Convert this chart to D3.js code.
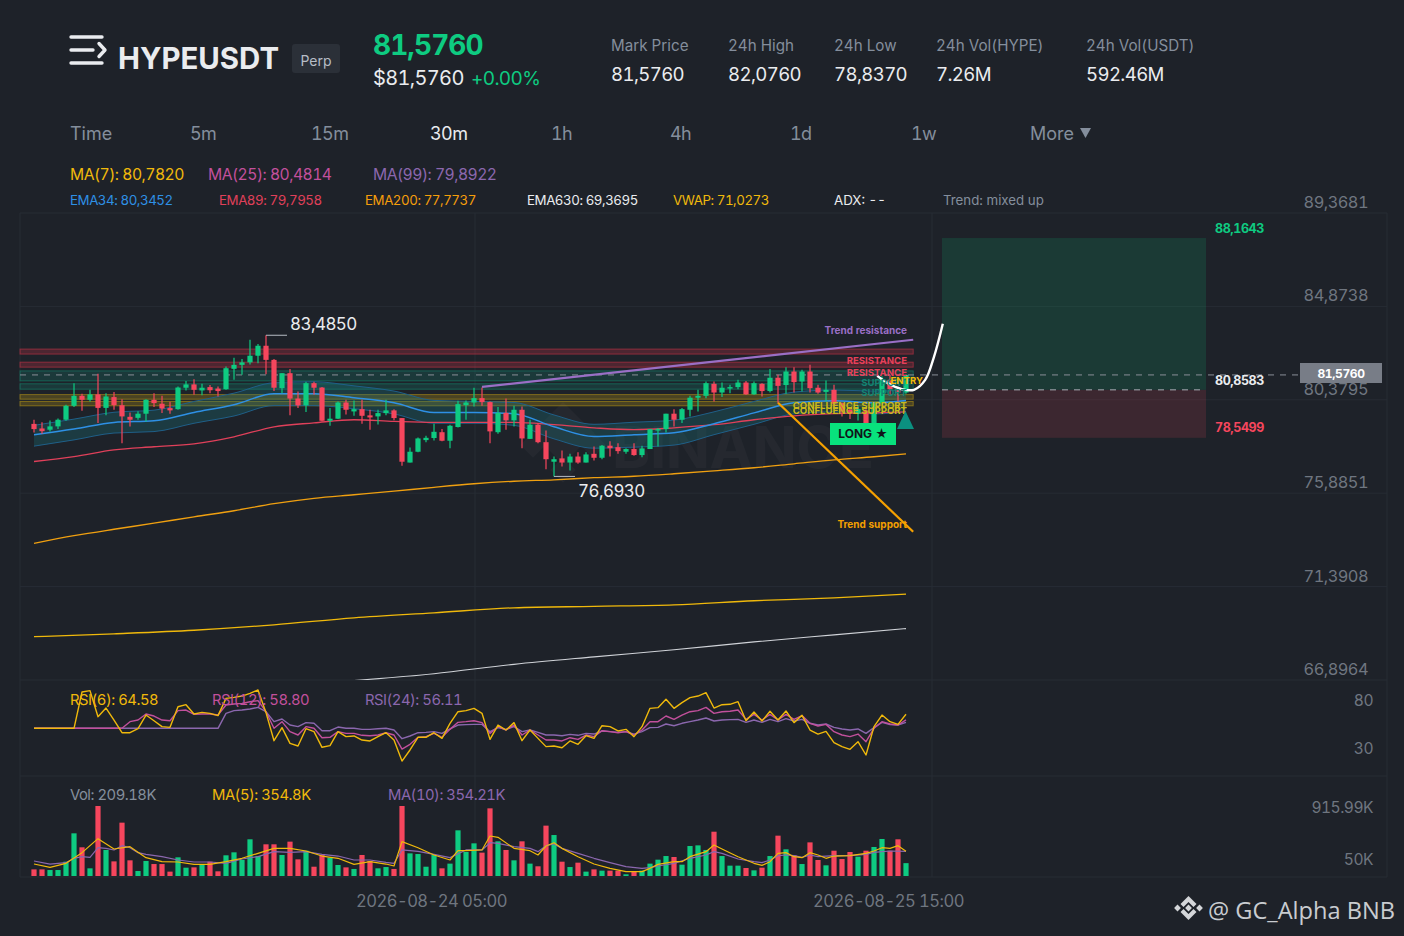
<!DOCTYPE html>
<html><head><meta charset="utf-8">
<script src="https://cdnjs.cloudflare.com/ajax/libs/d3/7.8.5/d3.min.js"></script>
<style>html,body{margin:0;padding:0;background:#1e2229;overflow:hidden}svg{display:block}text{font-family:Inter,"Noto Sans",sans-serif;font-variant-numeric:tabular-nums}</style>
</head><body><div id="c"></div>
<script>
// ---------- DATA ----------
const ohlc = [[79.22,79.42,78.81,78.97],[79.00,79.30,78.74,78.87],[78.94,79.38,78.86,79.10],[79.10,79.48,78.98,79.42],[79.42,80.14,79.37,80.09],[80.09,81.18,80.03,80.57],[80.57,80.67,79.85,80.38],[80.38,80.86,80.30,80.64],[80.64,81.63,79.26,79.99],[79.99,80.70,79.63,80.54],[80.51,80.76,79.90,80.12],[80.12,80.41,78.29,79.58],[79.56,79.77,79.10,79.42],[79.51,79.83,79.42,79.71],[79.71,80.41,79.34,80.38],[80.38,80.70,80.03,80.22],[80.19,80.57,79.74,79.96],[79.98,80.28,79.71,79.87],[79.93,81.02,79.90,80.97],[80.96,81.28,80.83,81.12],[81.12,81.37,80.62,80.86],[80.83,81.15,80.60,80.96],[80.99,81.09,80.70,80.84],[80.92,81.02,80.54,80.80],[80.89,81.98,80.86,81.90],[81.87,82.40,81.34,82.06],[82.06,82.34,81.58,82.18],[82.18,83.27,82.08,82.50],[82.50,83.07,82.14,82.98],[82.98,83.485,81.61,82.30],[82.30,82.34,80.80,80.96],[80.94,81.66,80.70,81.66],[81.66,81.86,79.64,80.44],[80.44,80.78,79.99,80.11],[80.11,81.25,79.79,81.18],[81.18,81.25,80.62,80.96],[80.97,80.99,79.35,79.37],[79.37,79.98,79.13,79.47],[79.47,80.30,79.45,80.25],[80.25,80.38,79.67,79.90],[79.82,80.35,79.61,79.93],[79.93,80.38,79.23,79.61],[79.63,79.90,78.94,79.53],[79.58,79.90,79.19,79.74],[79.74,80.38,79.64,79.87],[79.87,79.93,79.39,79.50],[79.50,79.50,77.20,77.40],[77.36,78.09,77.36,77.88],[77.88,78.57,77.85,78.52],[78.44,78.65,78.34,78.55],[78.54,79.23,78.42,78.84],[78.82,78.97,78.38,78.41],[78.41,79.18,78.05,79.13],[79.07,80.33,79.05,80.17],[80.12,80.35,79.42,80.25],[80.25,80.96,80.06,80.46],[80.46,80.97,80.09,80.27],[80.27,80.30,78.29,78.86],[78.82,80.03,78.74,79.75],[79.75,80.44,78.94,79.39],[79.39,80.09,79.10,79.90],[79.90,80.06,78.05,78.52],[78.50,79.42,78.49,79.18],[79.18,79.26,78.29,78.34],[78.34,78.90,77.04,77.52],[77.40,77.65,76.693,77.52],[77.56,77.94,77.17,77.36],[77.36,77.78,76.98,77.65],[77.65,77.86,77.30,77.36],[77.36,77.85,77.36,77.75],[77.78,78.13,77.46,77.59],[77.59,78.21,77.52,78.17],[78.17,78.39,77.65,78.05],[78.10,78.29,77.78,77.91],[77.88,78.05,77.78,78.01],[78.01,78.29,77.69,77.72],[77.72,78.17,77.62,78.04],[78.01,78.97,78.01,78.97],[78.90,79.02,78.13,78.97],[78.97,79.71,78.81,79.71],[79.71,79.93,79.10,79.42],[79.42,79.98,79.26,79.93],[79.90,80.57,79.58,80.48],[80.48,80.86,79.82,80.57],[80.57,81.26,80.46,81.18],[81.15,81.26,80.30,80.73],[80.73,81.21,80.51,80.96],[80.92,81.10,80.70,80.99],[80.99,81.34,80.89,81.21],[81.21,81.29,80.62,80.64],[80.64,81.26,80.62,81.18],[81.15,81.18,80.54,80.80],[80.80,81.86,80.73,81.44],[81.44,81.58,80.22,81.05],[81.09,81.94,80.67,81.74],[81.74,81.95,80.73,81.23],[81.26,81.82,80.78,81.74],[81.74,82.06,80.73,80.94],[80.96,81.10,80.67,80.73],[80.76,81.31,80.30,80.86],[80.86,81.10,80.03,80.19],[80.22,80.25,79.58,79.82],[79.90,79.98,79.45,79.74],[79.71,80.12,79.38,79.93],[79.87,79.93,79.26,79.26],[79.26,80.22,79.26,80.22],[80.22,81.50,80.14,81.37],[81.34,81.58,80.62,80.89],[80.89,81.02,80.30,80.73],[80.73,81.58,80.67,81.576]];
const volume = [132,132,124,124,227,578,405,145,916,372,231,710,244,112,236,198,198,104,281,153,157,186,227,108,306,343,248,504,297,442,442,310,475,256,363,165,310,277,186,157,137,310,236,145,161,137,916,330,322,165,310,145,203,615,347,454,339,887,479,372,244,479,203,170,673,557,227,161,215,104,132,116,116,116,71,108,116,203,252,297,285,190,421,429,372,598,297,178,178,149,120,153,297,549,380,306,198,466,248,182,363,260,347,289,363,409,508,363,504,209];
const emaIdx = [0,5,10,15,20,25,30,35,40,45,50,55,60,65,70,75,80,85,90,95,100,105,109];
const ema34 = [78.70,78.97,79.29,79.37,79.77,80.14,80.67,80.67,80.48,80.24,79.77,79.77,79.71,79.08,78.61,78.70,78.79,79.23,79.75,80.24,80.33,80.24,80.345];
const bandUpper = [79.15,79.45,79.78,79.88,80.30,80.70,81.20,81.25,81.05,80.80,80.35,80.30,80.25,79.65,79.20,79.30,79.40,79.80,80.30,80.75,80.85,80.80,80.85];
const bandLower = [78.15,78.45,78.78,78.85,79.25,79.60,80.10,80.10,79.95,79.70,79.25,79.25,79.15,78.50,78.05,78.10,78.20,78.70,79.20,79.70,79.80,79.70,79.80];
const ema89 = [77.41,77.65,77.97,78.12,78.26,78.60,79.08,79.27,79.42,79.34,79.29,79.29,79.29,79.18,79.03,78.94,79.03,79.18,79.42,79.61,79.71,79.75,79.796];
const ema200 = [73.47,73.84,74.15,74.44,74.75,75.04,75.38,75.64,75.81,75.98,76.17,76.34,76.46,76.53,76.63,76.70,76.82,76.96,77.11,77.30,77.49,77.64,77.774];
const vwapIdx = [0,10,20,30,40,50,60,70,80,90,100,109];
const vwap = [68.98,69.12,69.29,69.55,69.89,70.13,70.37,70.44,70.51,70.71,70.85,71.027];
const ema630Idx = [40,50,60,70,80,90,100,109];
const ema630 = [66.87,67.20,67.65,68.01,68.35,68.73,69.07,69.37];
const rsi6 = [50,50,50,50,50,50,87.8,89.2,62.1,71.1,58.6,45.4,45.4,49.6,63.8,57.9,51.7,51.0,72.5,74.6,64.9,66.6,65.6,63.2,81.2,82.2,83.6,86.4,89.9,66.3,37.1,50.7,34.3,31.6,49.6,46.5,30.2,31.9,46.5,41.3,42.0,37.8,36.8,41.3,45.4,37.8,15.9,27.4,40.6,40.6,45.4,39.5,55.2,67.3,68.4,70.8,65.6,38.5,53.4,48.2,55.9,37.1,48.2,39.5,30.9,31.6,29.8,36.8,33.3,42.3,39.5,52.7,51.7,47.2,48.9,41.3,51.7,70.8,71.5,80.2,70.8,76.7,81.9,83.6,87.1,71.1,74.6,75.0,77.7,57.9,67.0,57.6,67.7,58.6,68.0,55.9,63.5,48.2,44.0,46.8,35.0,30.9,28.1,36.1,22.2,51.7,63.8,56.9,54.1,64.58];
const rsi12 = [50,50,50,50,50,50,50,50,50,50,50,50,56.9,58.6,64.9,62.8,58.6,57.9,68.4,69.0,64.5,64.9,64.9,63.8,74.3,75.3,76.0,77.7,78.8,67.3,50.0,56.9,46.5,43.0,51.7,50.0,40.2,40.6,46.5,44.7,44.7,42.7,42.3,43.0,45.4,43.0,28.4,33.3,40.6,41.3,44.7,40.6,48.9,56.2,56.9,57.9,55.9,44.7,51.7,48.2,53.4,43.0,48.2,43.0,37.8,37.8,36.8,40.2,38.5,43.0,41.3,47.5,46.5,45.4,46.5,43.0,48.2,56.9,56.9,62.8,59.3,63.8,67.3,68.4,71.8,65.6,67.3,67.7,69.0,59.3,64.5,58.6,64.5,58.6,64.5,59.3,63.2,55.2,52.4,54.1,46.5,43.0,41.3,44.0,36.1,50.0,56.9,54.5,53.4,58.80];
const rsi24 = [50,50,50,50,50,50,50,50,50,50,50,50,50,50,50,50,50,50,50,50,50,50,50,50,65.6,68.4,69.0,70.1,71.8,67.3,56.9,59.7,53.4,51.7,55.9,55.2,47.5,47.5,51.3,50.0,50.0,48.9,48.9,49.6,50.0,48.2,39.2,42.0,45.4,45.8,46.5,44.7,49.3,53.4,53.8,54.1,54.1,46.5,50.7,48.9,51.7,46.5,48.2,45.8,43.0,43.0,42.3,43.7,42.7,44.7,44.0,47.2,46.5,45.8,46.5,44.0,46.5,50.7,51.0,54.5,52.7,55.2,56.9,58.6,60.7,57.6,58.6,59.0,59.3,56.2,58.6,56.2,59.3,56.9,60.0,57.6,59.3,55.2,53.4,54.5,51.0,49.3,48.2,49.3,44.7,50.7,56.2,53.8,53.4,56.11];
const volMa5Idx = [0,2,4,6,8,10,12,14,16,18,20,22,24,26,28,30,32,34,36,38,40,42,44,45,46,48,50,52,53,54,56,57,58,60,62,63,64,65,66,68,70,72,74,76,77,78,80,81,82,84,85,86,88,90,91,92,93,94,95,96,97,98,99,100,102,104,105,106,107,108,109];
const volMa5 = [198,157,207,339,512,384,413,277,227,223,194,194,227,269,330,392,392,359,297,269,194,227,198,174,475,400,310,248,363,363,372,545,528,392,363,310,421,462,392,289,198,145,104,104,145,194,227,227,289,351,433,384,289,207,182,227,330,339,289,277,339,310,269,297,301,330,359,400,392,425,354.8];
const volMa10Idx = [0,2,4,5,6,7,8,9,10,11,12,13,14,16,18,20,22,24,26,28,30,32,34,36,38,40,42,44,45,46,48,50,52,54,56,57,58,60,62,63,64,65,66,68,70,72,74,76,77,78,80,82,84,85,86,88,90,91,92,93,94,95,96,97,98,100,102,104,105,107,109];
const volMa10 = [236,198,215,269,289,281,400,392,372,425,400,339,318,289,248,223,223,207,260,289,351,343,351,318,297,248,248,219,207,372,355,318,277,372,372,462,454,413,392,351,425,446,392,330,269,215,165,145,153,174,207,269,310,351,330,260,227,215,248,301,310,301,281,310,289,301,301,318,343,359,354.21];
const zones = [
 {name:'res1',lo:82.58,hi:82.82,kind:'res'},{name:'res2',lo:81.95,hi:82.19,kind:'res'},
 {name:'sup1',lo:81.29,hi:81.77,kind:'sup'},{name:'sup2',lo:80.89,hi:81.15,kind:'sup'},
 {name:'conf1',lo:80.41,hi:80.63,kind:'conf'},{name:'conf2',lo:80.09,hi:80.30,kind:'conf'}];
const zoneSpan = [-1.75,109.9];
const resistanceX = [56,109.9], resistanceP = [81.0,83.27];
const supportX = [93,109.9], supportP = [80.24,74.03];
const arcX = [105.4,107,108.4,110,111.4,112.5,113.6];
const arcP = [81.53,81.12,80.90,80.86,81.34,82.45,84.04];
const targetPrice = 88.1643, entryPrice = 80.8583, stopPrice = 78.5499, lastPrice = 81.576;
const tradeBoxX = [113.5,146.5];
const priceTicks = [89.3681,84.8738,80.3795,75.8851,71.3908,66.8964];
const rsiTicks = [80,30];
const statLabels = ['Mark Price','24h High','24h Low','24h Vol(HYPE)','24h Vol(USDT)'];
const statValues = ['81,5760','82,0760','78,8370','7.26M','592.46M'];
const periods = ['Time','5m','15m','30m','1h','4h','1d','1w','More'];
const maLegend = ['MA(7): 80,7820','MA(25): 80,4814','MA(99): 79,8922'];
const emaLegend = ['EMA34: 80,3452','EMA89: 79,7958','EMA200: 77,7737','EMA630: 69,3695','VWAP: 71,0273','ADX: --','Trend: mixed up'];
const rsiLegend = ['RSI(6): 64.58','RSI(12): 58.80','RSI(24): 56.11'];
const volLegend = ['Vol: 209.18K','MA(5): 354.8K','MA(10): 354.21K'];
const dateLabels = ['2026-08-24 05:00','2026-08-25 15:00'];

// ---------- LAYOUT ----------
const W=1404,H=936, BG='#1e2229', GRID='#272c34', UP='#0ecb81', DOWN='#f6465d', GREY='#848e9c', AXIS='#6f7680';
const C={yellow:'#f0b90b',pink:'#c2509c',purple:'#8b67ae',blue:'#2e90e5',orange:'#f59e0b',ema89:'#e0405a'};
const svg=d3.select('#c').append('svg').attr('width',W).attr('height',H).attr('viewBox',`0 0 ${W} ${H}`);
svg.append('rect').attr('width',W).attr('height',H).attr('fill',BG);
const x=d3.scaleLinear().domain([0,109]).range([34,906]);
const y=d3.scaleLinear().domain([66.8964,89.3681]).range([680,213]);
const yRsi=d3.scaleLinear().domain([30,80]).range([747.5,699.5]);
const yVol=d3.scaleLinear().domain([50,916]).range([876,806]);
const digitShare=t=>{const s=String(t);return (s.match(/\d/g)||[]).length/s.length;};
const txt=(g,t,px,py,size,fill,weight,anchor)=>g.append('text').attr('x',px).attr('y',py).attr('font-size',size).attr('fill',fill).attr('font-weight',weight||400).attr('text-anchor',anchor||'start').attr('dominant-baseline','central').attr('letter-spacing',digitShare(t)>=.3?'-0.033em':null).text(t);

// ---------- GRID ----------
const grid=svg.append('g').attr('stroke',GRID).attr('stroke-width',1);
[...priceTicks.map(p=>y(p)),776,877].forEach(v=>grid.append('line').attr('x1',20).attr('x2',1387).attr('y1',v).attr('y2',v));
[20,475,932,1387].forEach(v=>grid.append('line').attr('x1',v).attr('x2',v).attr('y1',213).attr('y2',877));
svg.append('defs').append('clipPath').attr('id','pane').append('rect').attr('x',20).attr('y',213).attr('width',1367).attr('height',467);

// ---------- WATERMARK ----------
const wm=svg.append('g').attr('fill','#ffffff').attr('opacity',.028);
[[563,433,22],[533,445,9],[593,445,9],[563,470,9]].forEach(d=>wm.append('rect').attr('x',d[0]-d[2]).attr('y',d[1]-d[2]).attr('width',2*d[2]).attr('height',2*d[2]).attr('transform',`rotate(45 ${d[0]} ${d[1]})`));
wm.append('text').attr('x',612).attr('y',468).attr('font-size',58).attr('font-weight',700).attr('textLength',262).text('BINANCE');

// ---------- TRADE BOX ----------
svg.append('rect').attr('x',x(tradeBoxX[0])).attr('width',x(tradeBoxX[1])-x(tradeBoxX[0])).attr('y',y(targetPrice)).attr('height',y(entryPrice)-y(targetPrice)).attr('fill','rgba(14,203,129,.14)');
svg.append('rect').attr('x',x(tradeBoxX[0])).attr('width',x(tradeBoxX[1])-x(tradeBoxX[0])).attr('y',y(entryPrice)).attr('height',y(stopPrice)-y(entryPrice)).attr('fill','rgba(246,70,93,.14)');

// ---------- ZONES ----------
const zoneStyle={res:['rgba(190,50,70,.30)','rgba(190,50,70,.62)'],sup:['rgba(20,120,105,.28)','rgba(20,140,115,.55)'],conf:['rgba(190,155,20,.28)','rgba(190,155,20,.55)']};
svg.append('g').selectAll('rect').data(zones).join('rect').attr('x',x(zoneSpan[0])).attr('width',x(zoneSpan[1])-x(zoneSpan[0])).attr('y',d=>y(d.hi)).attr('height',d=>y(d.lo)-y(d.hi)).attr('fill',d=>zoneStyle[d.kind][0]).attr('stroke',d=>zoneStyle[d.kind][1]).attr('stroke-width',1);

// ---------- BAND + EMA ----------
const rows=emaIdx.map((i,k)=>({i,u:bandUpper[k],l:bandLower[k]}));
svg.append('path').datum(rows).attr('fill','rgba(28,120,125,.30)').attr('d',d3.area().x(d=>x(d.i)).y0(d=>y(d.l)).y1(d=>y(d.u)).curve(d3.curveMonotoneX));
const drawLine=(g,xs,ys,sx,sy,color,w,curve)=>g.append('path').datum(ys.map((v,k)=>[xs[k],v])).attr('fill','none').attr('stroke',color).attr('stroke-width',w).attr('stroke-linejoin','round').attr('d',d3.line().x(d=>sx(d[0])).y(d=>sy(d[1])).curve(curve||d3.curveMonotoneX));
const main=svg.append('g').attr('clip-path','url(#pane)');
drawLine(main,emaIdx,bandUpper,x,y,'#1f5f88',1);
drawLine(main,emaIdx,bandLower,x,y,'#1f5f88',1);
drawLine(main,ema630Idx,ema630,x,y,'#d0d3d8',1.1);
drawLine(main,vwapIdx,vwap,x,y,C.yellow,1.3);
drawLine(main,emaIdx,ema200,x,y,'#f0a010',1.3);
drawLine(main,emaIdx,ema89,x,y,C.ema89,1.3);
drawLine(main,emaIdx,ema34,x,y,C.blue,1.5);

// ---------- PRICE LINES ----------
svg.append('line').attr('x1',20).attr('x2',1382).attr('y1',y(lastPrice)).attr('y2',y(lastPrice)).attr('stroke','#8a8f98').attr('stroke-width',1).attr('stroke-dasharray','6,6');
svg.append('line').attr('x1',x(tradeBoxX[0])).attr('x2',x(tradeBoxX[1])).attr('y1',y(entryPrice)).attr('y2',y(entryPrice)).attr('stroke','#a9adb4').attr('stroke-width',1).attr('stroke-dasharray','6,6');

// ---------- CANDLES ----------
const cw=5.2;
const cg=svg.append('g').selectAll('g').data(ohlc).join('g');
cg.append('line').attr('x1',(d,i)=>x(i)).attr('x2',(d,i)=>x(i)).attr('y1',d=>y(d[1])).attr('y2',d=>y(d[2])).attr('stroke',d=>d[3]>=d[0]?UP:DOWN).attr('stroke-width',1.2);
cg.append('rect').attr('x',(d,i)=>x(i)-cw/2).attr('width',cw).attr('y',d=>y(Math.max(d[0],d[3]))).attr('height',d=>Math.max(1,Math.abs(y(d[0])-y(d[3])))).attr('fill',d=>d[3]>=d[0]?UP:DOWN);

// ---------- EXTREME MARKERS ----------
const hiI=d3.maxIndex(ohlc,d=>d[1]), loI=d3.minIndex(ohlc,d=>d[2]);
const mk=svg.append('g').attr('stroke','#b7bcc4').attr('stroke-width',1).attr('fill','none');
mk.append('path').attr('d',`M${x(hiI)},${y(ohlc[hiI][1])}H${x(hiI)+21}`);
mk.append('path').attr('d',`M${x(loI)},${y(ohlc[loI][2])}H${x(loI)+21}`);
txt(svg,'83,4850',290,324,17,'#eaecef');
txt(svg,'76,6930',578,491,17,'#eaecef');

// ---------- TREND LINES ----------
drawLine(svg,resistanceX,resistanceP,x,y,'#9a6fc6',2.2,d3.curveLinear);
drawLine(svg,supportX,supportP,x,y,'#f5a000',2.2,d3.curveLinear);
drawLine(svg,arcX,arcP,x,y,'#ffffff',2.4,d3.curveCatmullRom);

// ---------- ANNOTATIONS ----------
txt(svg,'Trend resistance',907,330,10,'#9a6fc6',700,'end');
txt(svg,'RESISTANCE',907,360,9.6,'#e8405a',700,'end');
txt(svg,'RESISTANCE',907,372.3,9.6,'#e8405a',700,'end');
txt(svg,'SUPPORT',907,382,9.6,'#138272',700,'end');
txt(svg,'SUPPORT',907,392.7,9.6,'#138272',700,'end');
txt(svg,'CONFLUENCE SUPPORT',907,405,9.6,'#c9b81a',700,'end');
txt(svg,'CONFLUENCE SUPPORT',907,410.7,9.6,'#c9b81a',700,'end');
txt(svg,'ENTRY',923,380,9.6,'#f0b90b',700,'end');
txt(svg,'Trend support',907,524,10,'#f5a000',700,'end');
svg.append('rect').attr('x',830).attr('y',423).attr('width',66).attr('height',22).attr('fill','#08e27d');
txt(svg,'LONG ★',863,433.5,12,'#10151a',700,'middle');
svg.append('path').attr('d','M905.5,411L914,429H897Z').attr('fill','#0b9080');
txt(svg,'88,1643',1215,228,12.5,UP,700);
txt(svg,'80,8583',1215,380,12.5,'#eaecef',700);
txt(svg,'78,5499',1215,427,12.5,DOWN,700);

// ---------- PRICE AXIS ----------
priceTicks.forEach(p=>txt(svg,p.toFixed(4).replace('.',','),1368,y(p)-11,16.4,AXIS,400,'end'));
svg.append('rect').attr('x',1300).attr('y',363).attr('width',82).attr('height',20).attr('fill','#787d87');
txt(svg,'81,5760',1341,373,12,'#ffffff',700,'middle');

// ---------- RSI ----------
const all=d3.range(ohlc.length);
drawLine(svg,all,rsi24,x,yRsi,C.purple,1.4,d3.curveLinear);
drawLine(svg,all,rsi12,x,yRsi,C.pink,1.4,d3.curveLinear);
drawLine(svg,all,rsi6,x,yRsi,C.yellow,1.4,d3.curveLinear);
rsiTicks.forEach(t=>txt(svg,t,1373,yRsi(t)+.5,15.6,AXIS,400,'end'));
[[70,C.yellow],[212,C.pink],[365,C.purple]].forEach((d,i)=>txt(svg,rsiLegend[i],d[0],699.5,14.8,d[1]));

// ---------- VOLUME ----------
svg.append('g').selectAll('rect').data(volume).join('rect').attr('x',(d,i)=>x(i)-2.6).attr('width',5.2).attr('y',d=>yVol(d)).attr('height',d=>yVol(50)-yVol(d)).attr('fill',(d,i)=>ohlc[i][3]>=ohlc[i][0]?UP:DOWN);
drawLine(svg,volMa10Idx,volMa10,x,yVol,C.purple,1.2,d3.curveLinear);
drawLine(svg,volMa5Idx,volMa5,x,yVol,C.yellow,1.2,d3.curveLinear);
[[70,GREY],[212,C.yellow],[388,C.purple]].forEach((d,i)=>txt(svg,volLegend[i],d[0],794.5,14.8,d[1]));
txt(svg,'915.99K',1373,807,15.6,AXIS,400,'end');
txt(svg,'50K',1373,859,15.6,AXIS,400,'end');
[[431.5,0],[888.5,1]].forEach(d=>txt(svg,dateLabels[d[1]],d[0],900.5,16.6,AXIS,400,'middle'));

// ---------- HEADER ----------
const icon=svg.append('g').attr('stroke','#eaecef').attr('stroke-width',3.4).attr('stroke-linecap','round').attr('stroke-linejoin','round').attr('fill','none');
icon.append('path').attr('d','M71,37H102M71,50H93M71,63H102M99,43.5L105,50L99,56.5');
txt(svg,'HYPEUSDT',118,58,29.4,'#eaecef',700);
svg.append('rect').attr('x',292).attr('y',44).attr('width',48).attr('height',29).attr('rx',3).attr('fill','#2b3038');
txt(svg,'Perp',316,60,14,'#b7bdc6',400,'middle');
txt(svg,'81,5760',373,45,28,UP,700);
txt(svg,'$81,5760',373,78,20,'#eaecef');
txt(svg,'+0.00%',471,78,19,UP);
[611,728,834,936,1086].forEach((px,i)=>{txt(svg,statLabels[i],px,45,15.2,GREY);txt(svg,statValues[i],px,74,18.6,'#eaecef');});
[70,190,311,430,551,670,790,911,1030].forEach((px,i)=>txt(svg,periods[i],px,133,18,i===3?'#eaecef':GREY));
svg.append('path').attr('d','M1080,128H1091L1085.5,138Z').attr('fill',GREY);
[[70,C.yellow],[208,C.pink],[373,C.purple]].forEach((d,i)=>txt(svg,maLegend[i],d[0],174,15.7,d[1]));
[[70,C.blue],[219,C.ema89],[365,C.orange],[527,'#eaecef'],[673,C.yellow],[834,'#eaecef'],[943,GREY]].forEach((d,i)=>txt(svg,emaLegend[i],d[0],200,13.3,d[1]));

// ---------- SIGNATURE ----------
const sig=svg.append('g').attr('fill','#d4d6d9');
sig.append('path').attr('d','M1188.5,896L1196.5,904L1193.5,907L1188.5,902L1183.5,907L1180.5,904Z');
sig.append('path').attr('d','M1188.5,920L1196.5,912L1193.5,909L1188.5,914L1183.5,909L1180.5,912Z');
[[1188.5,908,2.4],[1177.5,908,2.4],[1199.5,908,2.4]].forEach(d=>sig.append('rect').attr('x',d[0]-d[2]).attr('y',d[1]-d[2]).attr('width',2*d[2]).attr('height',2*d[2]).attr('transform',`rotate(45 ${d[0]} ${d[1]})`));
svg.append('text').attr('x',1208).attr('y',910).attr('font-size',23.6).attr('fill','#c9ccd0').attr('dominant-baseline','central').style('font-family','"Open Sans",sans-serif').text('@ GC_Alpha BNB');
</script></body></html>
